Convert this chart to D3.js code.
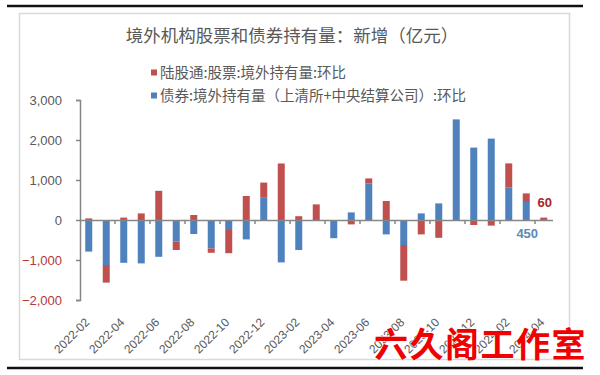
<!DOCTYPE html>
<html>
<head>
<meta charset="utf-8">
<script src="https://cdn.jsdelivr.net/npm/d3@7"></script>
<style>
  html, body { margin: 0; padding: 0; background: #fff; }
  svg { display: block; }
</style>
</head>
<body>
<script>
const months = [
  '2022-02', '2022-03', '2022-04', '2022-05', '2022-06', '2022-07', '2022-08', '2022-09',
  '2022-10', '2022-11', '2022-12', '2023-01', '2023-02', '2023-03', '2023-04', '2023-05',
  '2023-06', '2023-07', '2023-08', '2023-09', '2023-10', '2023-11', '2023-12', '2024-01',
  '2024-02', '2024-03', '2024-04'
]
// 债券:境外持有量（上清所+中央结算公司）:环比
const bondValues = [
  -790, -1125, -1070, -1085, -920, -540, -350, -710,
  -250, -485, 570, -1060, -750, 0, -455, 190,
  915, -360, -625, 165, 415, 2515, 1810, 2035,
  810, 450, 0
]
// 陆股通:股票:境外持有量:环比
const stockValues = [
  40, -440, 60, 165, 730, -210, 125, -110,
  -580, 600, 365, 1413, 95, 390, 0, -110,
  125, 475, -892, -360, -445, 0, -125, -140,
  605, 215, 60
]
const yTicks = [-2000, -1000, 0, 1000, 2000, 3000]
const seriesNames = ['陆股通:股票:境外持有量:环比', '债券:境外持有量（上清所+中央结算公司）:环比']
const title = '境外机构股票和债券持有量：新增（亿元）'
const callouts = [
  { key: 'stock', index: 26, text: '60' },
  { key: 'bond', index: 25, text: '450' }
]

const width = 600
const height = 375
const colorStock = '#c0504d'
const colorBond = '#4f81bd'
const textColor = '#595959'
const axisColor = '#868686'
const cjk = '"Noto Sans CJK SC", sans-serif'
const latin = '"Liberation Sans", Arial, sans-serif'

const rows = months.map((m, i) => ({ month: m, bond: bondValues[i], stock: stockValues[i] }))
const stacked = d3.stack().keys(['bond', 'stock']).offset(d3.stackOffsetDiverging)(rows)

const x = d3.scaleBand().domain(months).range([80, 552.5]).paddingInner(0.6).paddingOuter(0.3)
const y = d3.scaleLinear().domain([-2000, 3000]).range([300, 100])
const step = x.step()

const svg = d3.select('body').append('svg').attr('width', width).attr('height', height)

// frame lines
svg.append('rect').attr('x', 19.5).attr('y', 13.5).attr('width', 550).attr('height', 346)
  .attr('fill', '#fff').attr('stroke', '#d9d9d9').attr('stroke-width', 1.5)
svg.append('line').attr('x1', 7).attr('x2', 583).attr('y1', 6).attr('y2', 6)
  .attr('stroke', '#111').attr('stroke-width', 2.5)
svg.append('line').attr('x1', 7).attr('x2', 583).attr('y1', 368).attr('y2', 368)
  .attr('stroke', '#111').attr('stroke-width', 2.5)

svg.append('text').attr('x', 292).attr('y', 42).attr('text-anchor', 'middle')
  .attr('font-family', cjk).attr('font-size', 17.5).attr('fill', textColor).text(title)

// legend
const legend = svg.append('g').attr('font-family', cjk).attr('font-size', 14.5).attr('fill', textColor)
  .selectAll('g').data([colorStock, colorBond]).join('g')
  .attr('transform', (d, i) => `translate(151,${72.5 + i * 23})`)
legend.append('rect').attr('x', 0).attr('y', -3).attr('width', 6).attr('height', 6).attr('fill', (d) => d)
legend.append('text').attr('x', 9).attr('dy', '0.35em').text((d, i) => seriesNames[i])

// y axis
const yAxis = svg.append('g').attr('transform', 'translate(80,0)')
  .call(d3.axisLeft(y).tickValues(yTicks).tickSize(4).tickPadding(14).tickFormat(d3.format(',')))
yAxis.select('.domain').attr('stroke', axisColor).attr('stroke-width', 1.5)
yAxis.selectAll('.tick line').attr('stroke', axisColor).attr('stroke-width', 1.5)
yAxis.selectAll('.tick text').attr('font-family', latin).attr('font-size', 13)
  .attr('fill', (d) => (d < 0 ? '#b03a3a' : textColor))

// bars
svg.append('g').selectAll('g').data(stacked).join('g')
  .attr('fill', (s) => (s.key === 'bond' ? colorBond : colorStock))
  .selectAll('rect').data((s) => s).join('rect')
  .attr('x', (d) => x(d.data.month))
  .attr('width', x.bandwidth())
  .attr('y', (d) => y(Math.max(d[0], d[1])))
  .attr('height', (d) => Math.abs(y(d[0]) - y(d[1])))

// x axis line and ticks at band boundaries every two months
const xAxis = svg.append('g').attr('transform', `translate(0,${y(0)})`)
  .call(d3.axisBottom(x).tickValues([]).tickSizeOuter(0))
xAxis.select('.domain').attr('stroke', axisColor).attr('stroke-width', 1.5)
xAxis.selectAll('line.tk').data(months.filter((m, i) => i % 2 === 1)).join('line')
  .attr('class', 'tk')
  .attr('x1', (d) => x(d) + x.bandwidth() / 2 + step / 2)
  .attr('x2', (d) => x(d) + x.bandwidth() / 2 + step / 2)
  .attr('y1', 0).attr('y2', 4)
  .attr('stroke', axisColor).attr('stroke-width', 1.5)

// x labels at low position
svg.append('g').attr('font-family', latin).attr('font-size', 12).attr('fill', textColor)
  .selectAll('text').data(months.filter((m, i) => i % 2 === 0)).join('text')
  .attr('text-anchor', 'end')
  .attr('transform', (d) => `translate(${x(d) + x.bandwidth() / 2 + 1.5},323) rotate(-45)`)
  .text((d) => d)

// value callouts
svg.append('g').attr('font-family', latin).attr('font-size', 13).attr('font-weight', 'bold')
  .selectAll('text').data(callouts).join('text')
  .attr('text-anchor', 'middle')
  .attr('x', (d) => x(months[d.index]) + x.bandwidth() / 2 + (d.key === 'stock' ? 1 : 1))
  .attr('y', (d) => (d.key === 'stock' ? y(stockValues[d.index]) - 11 : y(0) + 18))
  .attr('fill', (d) => (d.key === 'stock' ? '#a6262a' : '#5a8bb5'))
  .text((d) => d.text)

// watermark
svg.append('text').attr('x', 587).attr('y', 357).attr('text-anchor', 'end')
  .attr('font-family', cjk).attr('font-weight', 'bold').attr('font-size', 34)
  .attr('letter-spacing', 1.5)
  .attr('fill', '#f00000').attr('stroke', '#fff').attr('stroke-width', 1)
  .attr('paint-order', 'stroke')
  .text('六久阁工作室')
</script>
</body>
</html>
